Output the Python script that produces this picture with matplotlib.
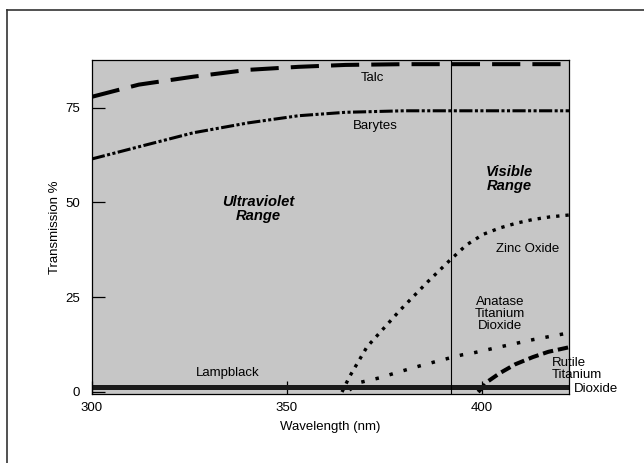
import numpy as np
import matplotlib
matplotlib.use("Agg")
import matplotlib.pyplot as plt
from matplotlib.lines import Line2D

plt.rcParams['font.family'] = ['Liberation Sans', 'DejaVu Sans']

# --- data (wavelength nm, transmission %) ---
talc_x = [300, 312, 326, 340, 353, 365, 380, 400, 422.3]
talc_y = [77.9, 81.1, 83.2, 85.0, 85.8, 86.3, 86.5, 86.5, 86.5]

barytes_x = [300, 312, 326, 340, 353, 365, 380, 400, 422.3]
barytes_y = [61.5, 64.7, 68.4, 71.0, 72.9, 73.8, 74.2, 74.2, 74.2]

zinc_x = [364.1, 366, 370.5, 379, 386, 391.8, 396, 400.3, 404.6, 409, 413, 417.4, 422.3]
zinc_y = [0, 4, 11.9, 21.6, 29.0, 34.8, 38.8, 41.6, 43.3, 44.6, 45.5, 46.2, 46.7]

anatase_x = [366, 368.2, 373.6, 378.7, 384.1, 389.5, 394.9, 397.7, 404.6, 413, 422.3]
anatase_y = [0.5, 2.4, 3.7, 5.3, 6.9, 8.4, 9.8, 10.3, 11.9, 13.8, 15.6]

rutile_x = [399, 401.5, 404.6, 408.5, 413, 417, 422.3]
rutile_y = [0, 2.8, 5.0, 7.3, 9.2, 10.6, 11.8]

lamp_x = [300, 422.3]
lamp_y = [1.3, 1.3]

visible_edge = 392
x_ticks = [300, 350, 400]
y_ticks = [0, 25, 50, 75]

fig = plt.figure(figsize=(6.44, 4.63), dpi=100)
ax = fig.add_axes([92/644, 1 - 394/463, 477/644, 334/463])
ax.set_facecolor('#c6c6c6')

# curves
ax.plot(talc_x, talc_y, color='black', lw=2.9, dashes=(7, 3))
ax.plot(barytes_x, barytes_y, color='black', lw=2.2, dashes=(4.3, 0.8, 1, 0.8, 1, 0.8))
ax.plot(zinc_x, zinc_y, color='black', lw=2.4, dashes=(1, 1.8))
ax.plot(anatase_x, anatase_y, color='black', lw=2.5, dashes=(1, 3.2))
ax.plot(rutile_x, rutile_y, color='black', lw=2.9, dashes=(2.6, 1.2))
ax.plot(lamp_x, lamp_y, color='#1a1a1a', lw=3.6, solid_capstyle='butt')
ax.axvline(visible_edge, color='black', lw=0.8)

# labels
txt = dict(fontsize=9.5, color='black')
ax.text(371.8, 82.9, 'Talc', ha='center', va='center', **txt)
ax.text(372.6, 70.3, 'Barytes', ha='center', va='center', **txt)
ax.text(411.8, 37.7, 'Zinc Oxide', ha='center', va='center', **txt)
ax.text(404.6, 20.6, 'Anatase\nTitanium\nDioxide', ha='center', va='center',
        linespacing=1.0, **txt)
ax.text(418.0, 6.0, 'Rutile\nTitanium', ha='left', va='center',
        linespacing=1.0, **txt)
ax.text(423.6, 0.8, 'Dioxide', ha='left', va='center', clip_on=False, **txt)
ax.text(334.9, 5.0, 'Lampblack', ha='center', va='center', **txt)

ax.text(342.6, 48.2, 'Ultraviolet\nRange', ha='center', va='center', fontsize=10.6,
        fontweight='bold', fontstyle='italic', linespacing=1.0)
ax.text(407.0, 56.2, 'Visible\nRange', ha='center', va='center', fontsize=10.6,
        fontweight='bold', fontstyle='italic', linespacing=1.0)

ax.set_xlim(300, 422.3)
ax.set_ylim(-0.53, 87.6)
ax.set_xticks(x_ticks)
ax.set_yticks(y_ticks)
ax.tick_params(direction='in', length=9.5, width=0.9, labelsize=9.5)
ax.tick_params(axis='y', pad=8.5)
ax.tick_params(axis='x', pad=6.0)
for s in ax.spines.values():
    s.set_linewidth(0.9)

ax.set_xlabel('Wavelength (nm)', fontsize=9.5, labelpad=5)
ax.set_ylabel('Transmission %', fontsize=9.5, labelpad=3)

# outer frame of the figure
fig.add_artist(Line2D([7/644, 7/644], [-0.05, 1 - 10/463], transform=fig.transFigure,
                      color='#333333', lw=1.2))
fig.add_artist(Line2D([7/644, 1.05], [1 - 10/463, 1 - 10/463], transform=fig.transFigure,
                      color='#333333', lw=1.2))

fig.savefig('out.png', dpi=100)
